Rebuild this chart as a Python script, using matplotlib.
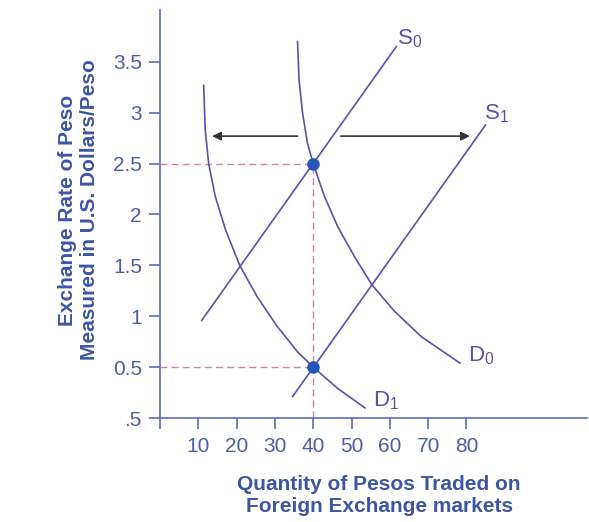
import matplotlib.pyplot as plt

plt.rcParams['font.family'] = ['Liberation Sans', 'DejaVu Sans']
plt.rcParams['mathtext.fontset'] = 'custom'
plt.rcParams['mathtext.rm'] = 'Liberation Sans'

# curves (quantity, exchange rate)
s0_x = [10.9, 61.7]
s0_y = [0.96, 3.65]
s1_x = [34.6, 85.0]
s1_y = [0.21, 2.88]

d0_x = [35.9, 36.3, 37.2, 38.5, 40.0, 42.9, 46.4, 50.7, 55.3, 61.2, 68.2, 78.3]
d0_y = [3.70, 3.32, 3.00, 2.70, 2.50, 2.18, 1.88, 1.59, 1.31, 1.05, 0.80, 0.54]
d1_x = [11.4, 11.8, 12.7, 14.4, 17.1, 20.8, 25.4, 30.6, 35.9, 40.0, 46.4, 53.5]
d1_y = [3.27, 2.83, 2.50, 2.18, 1.85, 1.50, 1.19, 0.90, 0.65, 0.50, 0.29, 0.10]

eq_x = [40, 40]
eq_y = [2.5, 0.5]

arrow_y = 2.77
arrow_left = (35.9, 13.6)
arrow_right = (47.2, 80.9)

xticks = [0, 10, 20, 30, 40, 50, 60, 70, 80]
xticklabels = ['', '10', '20', '30', '40', '50', '60', '70', '80']
yticks = [0, 0.5, 1, 1.5, 2, 2.5, 3, 3.5]
yticklabels = ['.5', '0.5', '1', '1.5', '2', '2.5', '3', '3.5']

curve_col = '#5b4fb0'
dash_col = '#cf7fa8'
tick_col = '#4b5ea6'
label_col = '#3c55a5'
axis_col = '#5a6cc0'

fig = plt.figure(figsize=(5.89, 5.22), dpi=100)
ax = fig.add_axes([0.2717, 0.1992, 0.725, 0.7818])

# dashed guides
for ex, ey in zip(eq_x, eq_y):
    ax.plot([0, ex], [ey, ey], ls=(0, (5, 3)), color=dash_col, lw=1.0)
ax.plot([40, 40], [0, 2.5], ls=(0, (5, 3)), color=dash_col, lw=1.0)

ax.plot(s0_x, s0_y, color=curve_col, lw=1.2)
ax.plot(s1_x, s1_y, color=curve_col, lw=1.2)
ax.plot(d0_x, d0_y, color=curve_col, lw=1.2)
ax.plot(d1_x, d1_y, color=curve_col, lw=1.2)

ax.plot(eq_x, eq_y, 'o', color='#2456b8', ms=8, zorder=5)

for x0, x1 in [arrow_left, arrow_right]:
    ax.annotate('', xy=(x1, arrow_y), xytext=(x0, arrow_y),
                arrowprops=dict(arrowstyle='-|>', color='#333333', lw=1.2,
                                mutation_scale=13, shrinkA=0, shrinkB=0))

lab = dict(color=curve_col, fontsize=16)
ax.text(61.8, 3.62, r'$\mathregular{S_0}$', ha='left', va='bottom', **lab)
ax.text(84.5, 2.88, r'$\mathregular{S_1}$', ha='left', va='bottom', **lab)
ax.text(80.5, 0.50, r'$\mathregular{D_0}$', ha='left', va='bottom', **lab)
ax.text(55.5, 0.06, r'$\mathregular{D_1}$', ha='left', va='bottom', **lab)

ax.set_xlim(0, 111.5)
ax.set_ylim(0, 4.01)
ax.set_xticks(xticks)
ax.set_xticklabels(xticklabels)
ax.set_yticks(yticks)
ax.set_yticklabels(yticklabels)
ax.tick_params(axis='both', colors=axis_col, labelcolor=tick_col, labelsize=15,
               length=8, width=1.2)
ax.tick_params(axis='x', pad=6)
ax.tick_params(axis='y', pad=5)

for side in ['top', 'right']:
    ax.spines[side].set_visible(False)
for side in ['left', 'bottom']:
    ax.spines[side].set_color(axis_col)
    ax.spines[side].set_linewidth(1.2)

ax.set_xlabel('Quantity of Pesos Traded on\nForeign Exchange markets',
              fontsize=15, fontweight='bold', color=label_col, va='center')
ax.set_ylabel('Exchange Rate of Peso\nMeasured in U.S. Dollars/Peso',
              fontsize=15, fontweight='bold', color=label_col, va='center')
ax.xaxis.set_label_coords(0.513, -0.189)
ax.yaxis.set_label_coords(-0.191, 0.51)

fig.savefig('out.png', dpi=100)
